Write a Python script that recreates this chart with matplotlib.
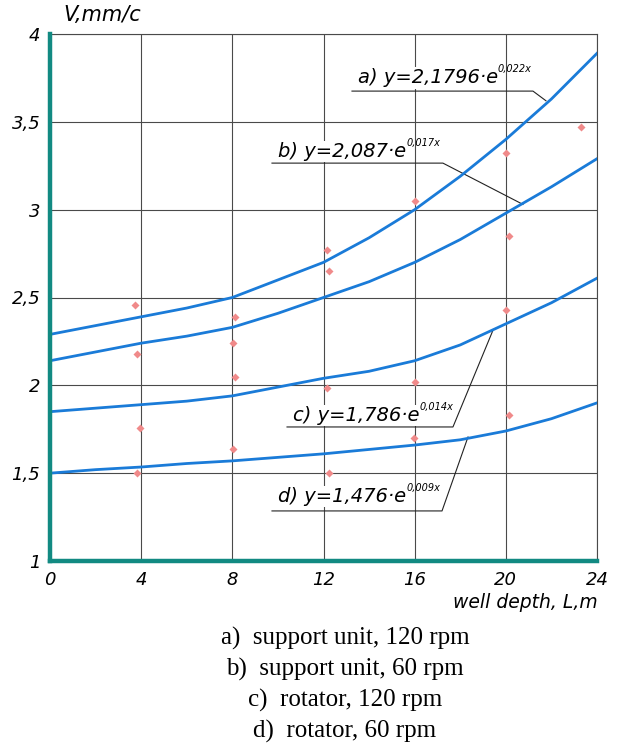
import matplotlib
matplotlib.use('Agg')
import matplotlib.pyplot as plt

# fitted curves, every 2 m
depth = [0, 2, 4, 6, 8, 10, 12, 14, 16, 18, 20, 22, 24]
curve_a = [2.29, 2.34, 2.39, 2.44, 2.50, 2.60, 2.70, 2.84, 3.00, 3.19, 3.40, 3.63, 3.89]
curve_b = [2.14, 2.19, 2.24, 2.28, 2.33, 2.41, 2.50, 2.59, 2.70, 2.83, 2.98, 3.13, 3.29]
curve_c = [1.85, 1.87, 1.89, 1.91, 1.94, 1.99, 2.04, 2.08, 2.14, 2.23, 2.35, 2.47, 2.61]
curve_d = [1.50, 1.52, 1.535, 1.555, 1.57, 1.59, 1.61, 1.635, 1.66, 1.69, 1.74, 1.81, 1.90]

# measured points
meas_x = [3.73, 3.82, 3.95, 3.82, 8.12, 8.03, 8.12, 8.03, 12.15, 12.25, 12.15, 12.24,
          16.0, 16.0, 15.95, 20.0, 20.15, 20.0, 20.15, 23.3]
meas_y = [2.46, 2.18, 1.757, 1.50, 2.39, 2.24, 2.05, 1.64, 2.77, 2.65, 1.985, 1.50,
          3.05, 2.02, 1.70, 3.32, 2.85, 2.43, 1.83, 3.47]

x_ticks = [0, 4, 8, 12, 16, 20, 24]
y_ticks = [1, 1.5, 2, 2.5, 3, 3.5, 4]
y_ticklabels = ['1', '1,5', '2', '2,5', '3', '3,5', '4']

eq_labels = ['a) y=2,1796·e', 'b) y=2,087·e', 'c) y=1,786·e', 'd) y=1,476·e']
eq_powers = ['0,022x', '0,017x', '0,014x', '0,009x']
captions = ['a)  support unit, 120 rpm', 'b)  support unit, 60 rpm',
            'c)  rotator, 120 rpm', 'd)  rotator, 60 rpm']

FONT = ['DejaVu Sans']
BLUE = '#1a7bd8'
TEAL = '#128a82'
GRID = '#4a4a4a'

fig = plt.figure(figsize=(6.21, 7.48), dpi=100)
ax = fig.add_axes([50 / 621, 187 / 748, 547 / 621, 527 / 748])

for curve in [curve_a, curve_b, curve_c, curve_d]:
    ax.plot(depth, curve, color=BLUE, lw=2.0, zorder=4, solid_joinstyle='round')
ax.plot(meas_x, meas_y, 'D', color='#f08a8a', ms=4.2, mec='none', zorder=5)

ax.set_xlim(0, 24)
ax.set_ylim(1, 4)
ax.set_xticks(x_ticks)
ax.set_xticklabels([str(t) for t in x_ticks], family=FONT, style='italic', fontsize=13)
ax.set_yticks(y_ticks)
ax.set_yticklabels(y_ticklabels, family=FONT, style='italic', fontsize=13)
ax.tick_params(length=0)
ax.tick_params(axis='x', pad=7)
ax.tick_params(axis='y', pad=7)
ax.grid(True, color=GRID, lw=0.8)
ax.set_axisbelow(True)

for side in ['top', 'right']:
    ax.spines[side].set_color(GRID)
    ax.spines[side].set_linewidth(0.8)
for side in ['left', 'bottom']:
    ax.spines[side].set_color(TEAL)
    ax.spines[side].set_linewidth(3.2)
    ax.spines[side].set_zorder(6)

fig.text(63 / 621, 1 - 15 / 748, 'V,mm/c', family=FONT, style='italic', fontsize=15,
         ha='left', va='center')
fig.text(598 / 621, 1 - 603 / 748, 'well depth, L,m', family=FONT, style='italic',
         fontsize=13.5, ha='right', va='center')

# equation labels with leader lines
text_pos = [(13.5, 3.72), (10.0, 3.30), (10.65, 1.797), (10.0, 1.336)]
leaders = [([13.25, 21.19, 21.76], [3.675, 3.675, 3.62]),
           ([9.74, 17.24, 20.75], [3.265, 3.265, 3.03]),
           ([10.40, 17.68, 19.44], [1.763, 1.763, 2.315]),
           ([9.74, 17.20, 18.34], [1.285, 1.285, 1.706])]

for lab, pw, tp, ld in zip(eq_labels, eq_powers, text_pos, leaders):
    ax.plot(ld[0], ld[1], color='#222222', lw=0.8, zorder=3)
    t = ax.text(tp[0], tp[1], lab, family=FONT, style='italic', fontsize=14,
                ha='left', va='baseline', zorder=3,
                bbox=dict(facecolor='white', edgecolor='none', pad=1))
    ax.annotate(pw, xy=(1, 1), xycoords=t, xytext=(0, -4), textcoords='offset points',
                family=FONT, style='italic', fontsize=7, ha='left', va='bottom',
                zorder=3)

for i, cap in enumerate(captions):
    fig.text(345 / 621, 1 - (638 + 31 * i) / 748, cap, family='Liberation Serif',
             fontsize=18, ha='center', va='center')

fig.savefig('out.png', dpi=100)
